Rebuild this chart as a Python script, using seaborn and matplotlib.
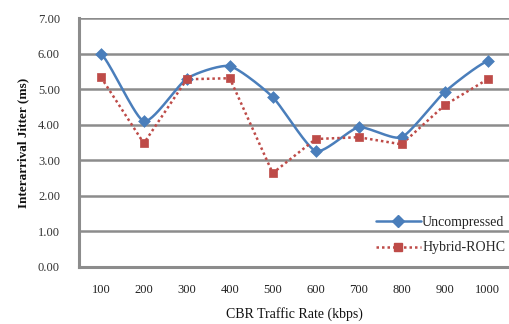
import numpy as np
import pandas as pd
import matplotlib
matplotlib.use("Agg")
import matplotlib.pyplot as plt
from matplotlib.lines import Line2D
import seaborn as sns

categories = ["100", "200", "300", "400", "500", "600", "700", "800", "900", "1000"]
uncompressed = [6.00, 4.10, 5.30, 5.65, 4.78, 3.26, 3.93, 3.65, 4.92, 5.79]
hybrid_rohc = [5.34, 3.48, 5.28, 5.31, 2.64, 3.60, 3.65, 3.45, 4.55, 5.28]
y_ticks = [0, 1, 2, 3, 4, 5, 6, 7]

sns.set_theme(style="white")
plt.rcParams['font.family'] = ['Liberation Serif', 'DejaVu Serif']

BLUE = "#4A7EBB"
RED = "#BE4B48"
GRID = "#8C8C8C"


def smooth(xs, ys, n=30):
    # Catmull-Rom style rendering of the line between the data points
    xs = np.asarray(xs, float)
    ys = np.asarray(ys, float)
    px = np.concatenate([[2 * xs[0] - xs[1]], xs, [2 * xs[-1] - xs[-2]]])
    py = np.concatenate([[ys[0]], ys, [ys[-1]]])
    ox, oy = [], []
    for i in range(1, len(px) - 2):
        t = np.linspace(0, 1, n, endpoint=(i == len(px) - 3))
        p0, p1, p2, p3 = (np.array([px[j], py[j]]) for j in range(i - 1, i + 3))
        m1 = (p2 - p0) * 0.3
        m2 = (p3 - p1) * 0.3
        h00 = 2 * t**3 - 3 * t**2 + 1
        h10 = t**3 - 2 * t**2 + t
        h01 = -2 * t**3 + 3 * t**2
        h11 = t**3 - t**2
        pts = (np.outer(h00, p1) + np.outer(h10, m1) + np.outer(h01, p2) + np.outer(h11, m2))
        ox.extend(pts[:, 0])
        oy.extend(pts[:, 1])
    return np.array(ox), np.array(oy)


fig = plt.figure(figsize=(5.09, 3.24), dpi=100)
ax = fig.add_axes([0.156, 0.176, 0.844, 0.768])

xpos = np.arange(len(categories))
df = pd.DataFrame({"x": xpos, "Uncompressed": uncompressed, "Hybrid-ROHC": hybrid_rohc})

sx, sy = smooth(xpos, uncompressed)
sns.lineplot(x=sx, y=sy, ax=ax, color=BLUE, lw=1.8, sort=False, zorder=3)
sns.lineplot(data=df, x="x", y="Hybrid-ROHC", ax=ax, color=RED, lw=1.8,
             linestyle=(0, (1, 1.2)), zorder=3)

sns.scatterplot(data=df, x="x", y="Uncompressed", ax=ax, color=BLUE, marker="D", s=36,
                edgecolor=BLUE, zorder=4, legend=False)
sns.scatterplot(data=df, x="x", y="Hybrid-ROHC", ax=ax, color=RED, marker="s", s=40,
                edgecolor=RED, zorder=4, legend=False)

ax.set_xlim(-0.5, len(categories) - 0.5)
ax.set_ylim(0, 7)
ax.set_yticks(y_ticks)
ax.set_yticklabels([f"{v:.2f}" for v in y_ticks], fontsize=9, color="#333333")
ax.set_xticks(xpos)
ax.set_xticklabels(categories, fontsize=9, color="#222222")
ax.tick_params(axis="x", pad=12, length=0)
ax.tick_params(axis="y", pad=14, length=0)

for v in y_ticks[1:]:
    ax.axhline(v, color=GRID, lw=1.8, zorder=1)

for s in ["top", "right"]:
    ax.spines[s].set_visible(False)
for s in ["left", "bottom"]:
    ax.spines[s].set_color(GRID)
    ax.spines[s].set_linewidth(2.2)

ax.set_xlabel("CBR Traffic Rate (kbps)", fontsize=10, labelpad=8, color="#111111")
ax.set_ylabel("Interarrival Jitter (ms)", fontsize=9.5, fontweight="bold", labelpad=6, color="#111111")

handles = [
    Line2D([0], [0], color=BLUE, lw=1.8, marker="D", markersize=6),
    Line2D([0], [0], color=RED, lw=1.8, linestyle=(0, (1, 1.2)), marker="s", markersize=6),
]
ax.legend(handles, ["Uncompressed", "Hybrid-ROHC"], loc="lower right", bbox_to_anchor=(1.02, 0.0),
          frameon=False, fontsize=10, handlelength=3.2, handletextpad=0.1, labelspacing=0.9)

fig.savefig("out.png", dpi=100)
